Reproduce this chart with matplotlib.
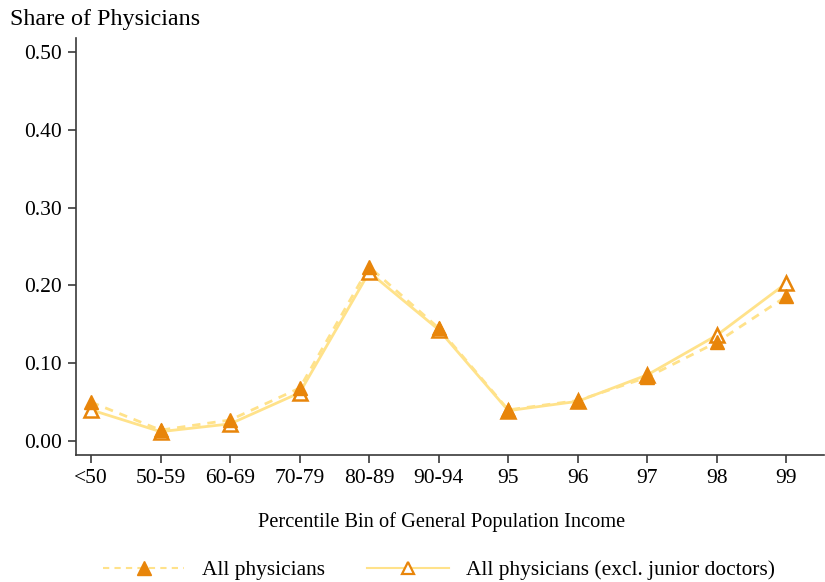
import matplotlib
matplotlib.use("Agg")
import matplotlib.pyplot as plt
from matplotlib.lines import Line2D

plt.rcParams['font.family'] = ['Liberation Serif', 'DejaVu Serif']

bins = ["<50", "50-59", "60-69", "70-79", "80-89", "90-94", "95", "96", "97", "98", "99"]
all_phys = [0.050, 0.014, 0.027, 0.068, 0.224, 0.145, 0.040, 0.052, 0.082, 0.127, 0.186]
excl_junior = [0.040, 0.012, 0.022, 0.062, 0.217, 0.143, 0.039, 0.051, 0.085, 0.136, 0.203]
yticks = [0.0, 0.1, 0.2, 0.3, 0.4, 0.5]

line_col = "#FFE28A"
mark_col = "#E8850A"
axis_col = "#3a3a3a"

fig = plt.figure(figsize=(8.25, 5.82), dpi=100)
ax = fig.add_axes([76/825, 1-455/582, (824-76)/825, (455-38)/582])

x = list(range(len(bins)))
ax.plot(x, all_phys, color=line_col, lw=2, ls=(0, (3, 2.5)), zorder=2)
ax.plot(x, excl_junior, color=line_col, lw=2, ls='-', zorder=2)
ax.plot(x, excl_junior, ls='none', marker='^', ms=9.5, mfc='white', mec=mark_col, mew=1.8, zorder=3)
ax.plot(x, all_phys, ls='none', marker='^', ms=10.5, mfc=mark_col, mec=mark_col, zorder=4)

ax.set_xlim(-0.216, 10.54)
ax.set_ylim(-0.018, 0.518)
ax.set_xticks(x)
ax.set_xticklabels(bins)
ax.set_yticks(yticks)
ax.set_yticklabels([f"{v:.2f}" for v in yticks])

for side in ("top", "right"):
    ax.spines[side].set_visible(False)
for side in ("left", "bottom"):
    ax.spines[side].set_color(axis_col)
    ax.spines[side].set_linewidth(1.2)
ax.tick_params(axis='both', colors=axis_col, labelcolor='black', labelsize=15.5,
               length=6, width=1.2, direction='out', pad=4)

ax.set_xlabel("Percentile Bin of General Population Income", fontsize=14.7)
ax.xaxis.set_label_coords((442-76)/(824-76), -(522-455)/(455-38), transform=ax.transAxes)
ax.xaxis.label.set_va('center')
fig.text(10/825, 1-20/582, "Share of Physicians", fontsize=17.4, va='center', ha='left')

h1 = Line2D([], [], color=line_col, lw=1.5, ls=(0, (3, 2.5)), marker='^', ms=9.5,
            mfc=mark_col, mec=mark_col)
h2 = Line2D([], [], color=line_col, lw=1.5, ls='-', marker='^', ms=8.5,
            mfc='white', mec=mark_col, mew=1.6)
fig.legend([h1, h2], ["All physicians", "All physicians (excl. junior doctors)"],
           loc='center', bbox_to_anchor=(0.532, 1-570/582), ncol=2, frameon=False,
           fontsize=15.4, handlelength=3.8, columnspacing=2.0, handletextpad=0.8)

fig.savefig("out.png", dpi=100)
